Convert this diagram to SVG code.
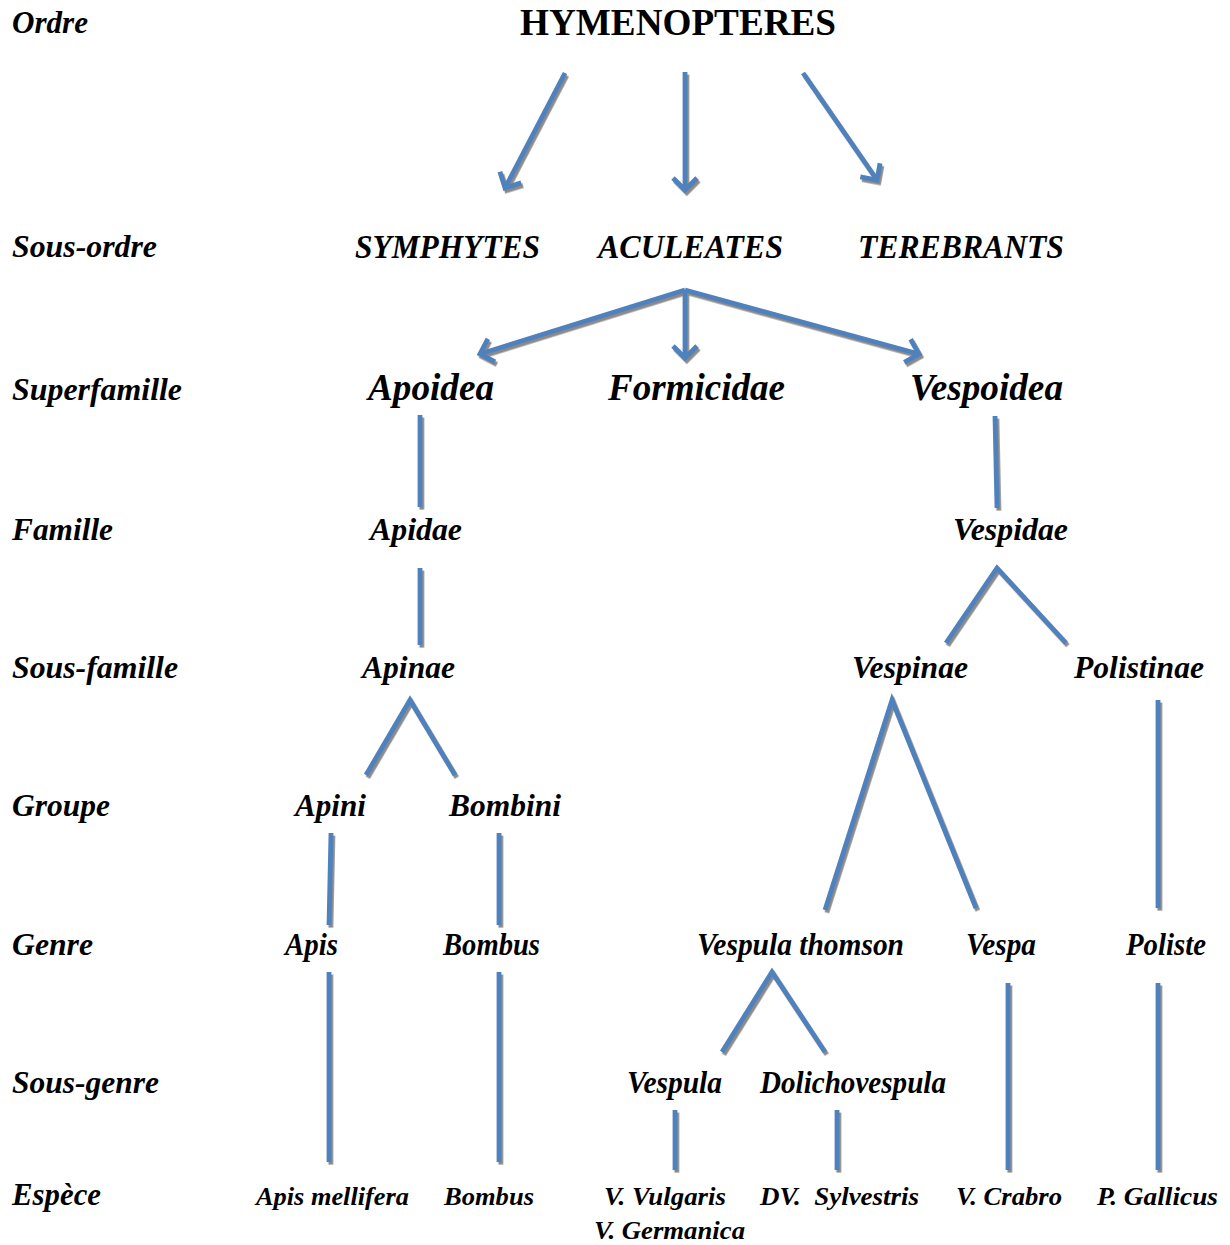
<svg xmlns="http://www.w3.org/2000/svg" width="1230" height="1245" viewBox="0 0 1230 1245">
<style>
text{font-family:"Liberation Serif","Times New Roman",serif;font-weight:bold;font-style:italic;fill:#000}
.lab{font-size:31px}
.title{font-style:normal;font-size:37px}
.so{font-size:34px}
.sf{font-size:37px}
.n{font-size:31px}
.sp{font-size:26px}
.c{fill:none;stroke:#4F81BD;stroke-width:4.8;stroke-linecap:butt;stroke-linejoin:miter}
</style>
<defs>
<filter id="sh" x="-20%" y="-20%" width="140%" height="140%">
<feDropShadow dx="1.8" dy="2.6" stdDeviation="0.35" flood-color="#8a8a8a" flood-opacity="1"/>
</filter>
<marker id="ah" markerUnits="userSpaceOnUse" markerWidth="40" markerHeight="40" refX="0" refY="0" viewBox="-20 -20 40 40" orient="auto" overflow="visible">
<path d="M-12,-12 L0,0 L-12,12" fill="none" stroke="#4F81BD" stroke-width="4.8" stroke-linejoin="miter"/>
</marker>
</defs>
<rect width="1230" height="1245" fill="#fff"/>
<g id="level-labels">
<text class="lab" x="12" y="33" textLength="76" lengthAdjust="spacingAndGlyphs">Ordre</text>
<text class="lab" x="12" y="257" textLength="145" lengthAdjust="spacingAndGlyphs">Sous-ordre</text>
<text class="lab" x="12" y="400" textLength="170" lengthAdjust="spacingAndGlyphs">Superfamille</text>
<text class="lab" x="12" y="540" textLength="101" lengthAdjust="spacingAndGlyphs">Famille</text>
<text class="lab" x="12" y="678" textLength="166" lengthAdjust="spacingAndGlyphs">Sous-famille</text>
<text class="lab" x="12" y="816" textLength="98" lengthAdjust="spacingAndGlyphs">Groupe</text>
<text class="lab" x="12" y="955" textLength="81" lengthAdjust="spacingAndGlyphs">Genre</text>
<text class="lab" x="12" y="1093" textLength="147" lengthAdjust="spacingAndGlyphs">Sous-genre</text>
<text class="lab" x="12" y="1205" textLength="89" lengthAdjust="spacingAndGlyphs">Espèce</text>
</g>
<g id="n-hymenopteres"><text class="title" x="520" y="35" textLength="316" lengthAdjust="spacingAndGlyphs">HYMENOPTERES</text></g>
<g id="n-symphytes"><text class="so" x="355" y="258" textLength="185" lengthAdjust="spacingAndGlyphs">SYMPHYTES</text></g>
<g id="n-aculeates"><text class="so" x="598" y="258" textLength="185" lengthAdjust="spacingAndGlyphs">ACULEATES</text></g>
<g id="n-terebrants"><text class="so" x="858" y="258" textLength="206" lengthAdjust="spacingAndGlyphs">TEREBRANTS</text></g>
<g id="n-apoidea"><text class="sf" x="368" y="400" textLength="126" lengthAdjust="spacingAndGlyphs">Apoidea</text></g>
<g id="n-formicidae"><text class="sf" x="608" y="400" textLength="177" lengthAdjust="spacingAndGlyphs">Formicidae</text></g>
<g id="n-vespoidea"><text class="sf" x="910" y="400" textLength="153" lengthAdjust="spacingAndGlyphs">Vespoidea</text></g>
<g id="n-apidae"><text class="n" x="370" y="540" textLength="92" lengthAdjust="spacingAndGlyphs">Apidae</text></g>
<g id="n-vespidae"><text class="n" x="953" y="540" textLength="115" lengthAdjust="spacingAndGlyphs">Vespidae</text></g>
<g id="n-apinae"><text class="n" x="362" y="678" textLength="93" lengthAdjust="spacingAndGlyphs">Apinae</text></g>
<g id="n-vespinae"><text class="n" x="852" y="678" textLength="116" lengthAdjust="spacingAndGlyphs">Vespinae</text></g>
<g id="n-polistinae"><text class="n" x="1074" y="678" textLength="130" lengthAdjust="spacingAndGlyphs">Polistinae</text></g>
<g id="n-apini"><text class="n" x="295" y="816" textLength="71" lengthAdjust="spacingAndGlyphs">Apini</text></g>
<g id="n-bombini"><text class="n" x="449" y="816" textLength="112" lengthAdjust="spacingAndGlyphs">Bombini</text></g>
<g id="n-apis"><text class="n" x="285" y="955" textLength="53" lengthAdjust="spacingAndGlyphs">Apis</text></g>
<g id="n-bombus"><text class="n" x="443" y="955" textLength="97" lengthAdjust="spacingAndGlyphs">Bombus</text></g>
<g id="n-vespula-thomson"><text class="n" x="697" y="955" textLength="207" lengthAdjust="spacingAndGlyphs">Vespula thomson</text></g>
<g id="n-vespa"><text class="n" x="966" y="955" textLength="70" lengthAdjust="spacingAndGlyphs">Vespa</text></g>
<g id="n-poliste"><text class="n" x="1126" y="955" textLength="80" lengthAdjust="spacingAndGlyphs">Poliste</text></g>
<g id="n-vespula"><text class="n" x="627" y="1093" textLength="95" lengthAdjust="spacingAndGlyphs">Vespula</text></g>
<g id="n-dolichovespula"><text class="n" x="760" y="1093" textLength="186" lengthAdjust="spacingAndGlyphs">Dolichovespula</text></g>
<g id="n-apis-mellifera"><text class="sp" x="256" y="1205" textLength="153" lengthAdjust="spacingAndGlyphs">Apis mellifera</text></g>
<g id="n-bombus-sp"><text class="sp" x="444" y="1205" textLength="90" lengthAdjust="spacingAndGlyphs">Bombus</text></g>
<g id="n-vulgaris"><text class="sp" x="604" y="1205" textLength="122" lengthAdjust="spacingAndGlyphs">V. Vulgaris</text><text class="sp" x="594" y="1239" textLength="151" lengthAdjust="spacingAndGlyphs">V. Germanica</text></g>
<g id="n-sylvestris"><text class="sp" x="760" y="1205" textLength="159" lengthAdjust="spacingAndGlyphs" xml:space="preserve">DV.  Sylvestris</text></g>
<g id="n-crabro"><text class="sp" x="956" y="1205" textLength="106" lengthAdjust="spacingAndGlyphs">V. Crabro</text></g>
<g id="n-gallicus"><text class="sp" x="1097" y="1205" textLength="121" lengthAdjust="spacingAndGlyphs">P. Gallicus</text></g>
<g id="connectors" filter="url(#sh)">
<path class="c" d="M565,73 L505,188" marker-end="url(#ah)"/>
<path class="c" d="M685,72 L685,190" marker-end="url(#ah)"/>
<path class="c" d="M803,73 L877,180" marker-end="url(#ah)"/>
<path class="c" d="M685,290 L480,354" marker-end="url(#ah)"/>
<path class="c" d="M685,290 L685,358" marker-end="url(#ah)"/>
<path class="c" d="M685,290 L919,354" marker-end="url(#ah)"/>
<path class="c" d="M420,415 L420,507"/>
<path class="c" d="M420,568 L420,645"/>
<path class="c" d="M366,775 L410,700 L455,775"/>
<path class="c" d="M331,833 L329,925"/>
<path class="c" d="M329,972 L329,1162"/>
<path class="c" d="M499,833 L499,925"/>
<path class="c" d="M499,972 L499,1162"/>
<path class="c" d="M995,416 L997,508"/>
<path class="c" d="M946,643 L997,568 L1066,643"/>
<path class="c" d="M825,910 L892,700 L976,908"/>
<path class="c" d="M1158,700 L1158,908"/>
<path class="c" d="M1158,983 L1158,1170"/>
<path class="c" d="M1008,983 L1008,1170"/>
<path class="c" d="M722,1052 L772,972 L825,1052"/>
<path class="c" d="M675,1110 L675,1170"/>
<path class="c" d="M837,1110 L837,1170"/>
</g>
</svg>
